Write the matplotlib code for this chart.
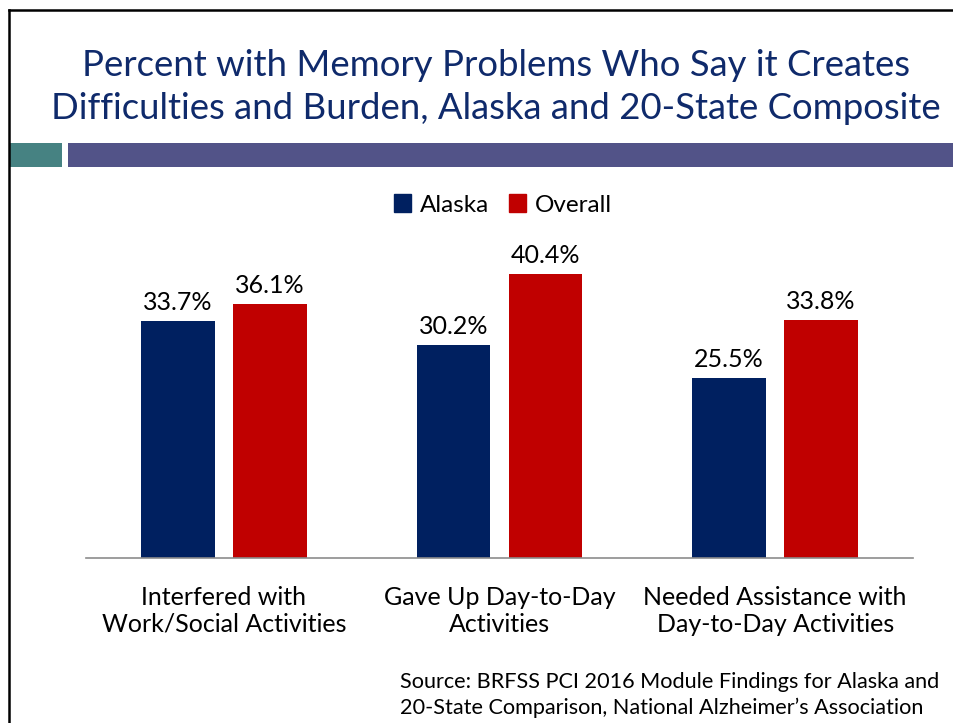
import matplotlib.pyplot as plt
import numpy as np
from matplotlib.patches import Rectangle
from matplotlib.lines import Line2D

categories = ["Interfered with\nWork/Social Activities",
              "Gave Up Day-to-Day\nActivities",
              "Needed Assistance with\nDay-to-Day Activities"]
alaska = [33.7, 30.2, 25.5]
overall = [36.1, 40.4, 33.8]
series_names = ["Alaska", "Overall"]

navy = "#002060"
red = "#C00000"
plt.rcParams['font.family'] = ['Lato', 'DejaVu Sans']

W, H = 954, 723
fig = plt.figure(figsize=(W / 100, H / 100), dpi=100)

# slide border
fig.add_artist(Line2D([9 / W, 9 / W], [0, 1 - 10 / H], transform=fig.transFigure, color="black", lw=1.8))
fig.add_artist(Line2D([9 / W, 1], [1 - 10 / H, 1 - 10 / H], transform=fig.transFigure, color="black", lw=1.8))

# header bars
fig.add_artist(Rectangle((10 / W, 1 - 167 / H), 52 / W, 24 / H, transform=fig.transFigure,
                         color="#468282", lw=0))
fig.add_artist(Rectangle((68 / W, 1 - 167 / H), (W - 68) / W, 24 / H, transform=fig.transFigure,
                         color="#525388", lw=0))

fig.text(496 / W, 1 - 87 / H, "Percent with Memory Problems Who Say it Creates\nDifficulties and Burden, Alaska and 20-State Composite",
         ha="center", va="center", fontsize=26.3, color="#0F2A6B", linespacing=1.38)

# axes: x from 86 to 913 px, baseline at 558 px
ax = fig.add_axes([86 / W, 1 - 558 / H, (913 - 86) / W, 400 / H])
ymax = 400 / 7.04
x = np.arange(len(categories))
w = 0.268
off = 0.167
b1 = ax.bar(x - off, alaska, w, color=navy)
b2 = ax.bar(x + off, overall, w, color=red)
for bars, vals in ((b1, alaska), (b2, overall)):
    for r, v in zip(bars, vals):
        ax.text(r.get_x() + r.get_width() / 2, v + 1.0, f"{v}%", ha="center", va="bottom",
                fontsize=18, color="black")
ax.set_xlim(-0.5, 2.5)
ax.set_ylim(0, ymax)
for s in ["top", "right", "left"]:
    ax.spines[s].set_visible(False)
ax.spines["bottom"].set_color("#8C8C8C")
ax.spines["bottom"].set_linewidth(1.2)
ax.set_yticks([])
ax.set_xticks(x)
ax.set_xticklabels(categories, fontsize=18, linespacing=1.2)
ax.tick_params(axis="x", length=0, pad=20)
ax.patch.set_alpha(0)

# legend
leg = fig.legend([Rectangle((0, 0), 1, 1, color=navy), Rectangle((0, 0), 1, 1, color=red)], series_names,
                 loc="center", bbox_to_anchor=(503 / W, 1 - 205 / H), ncol=2, frameon=False,
                 fontsize=17.5, handlelength=0.7, handleheight=0.7, handletextpad=0.35, columnspacing=0.85)

fig.text(400 / W, 1 - 695 / H, "Source: BRFSS PCI 2016 Module Findings for Alaska and\n20-State Comparison, National Alzheimer\u2019s Association",
         ha="left", va="center", fontsize=15.6, color="black", linespacing=1.3)

fig.savefig("out.png", dpi=100)
